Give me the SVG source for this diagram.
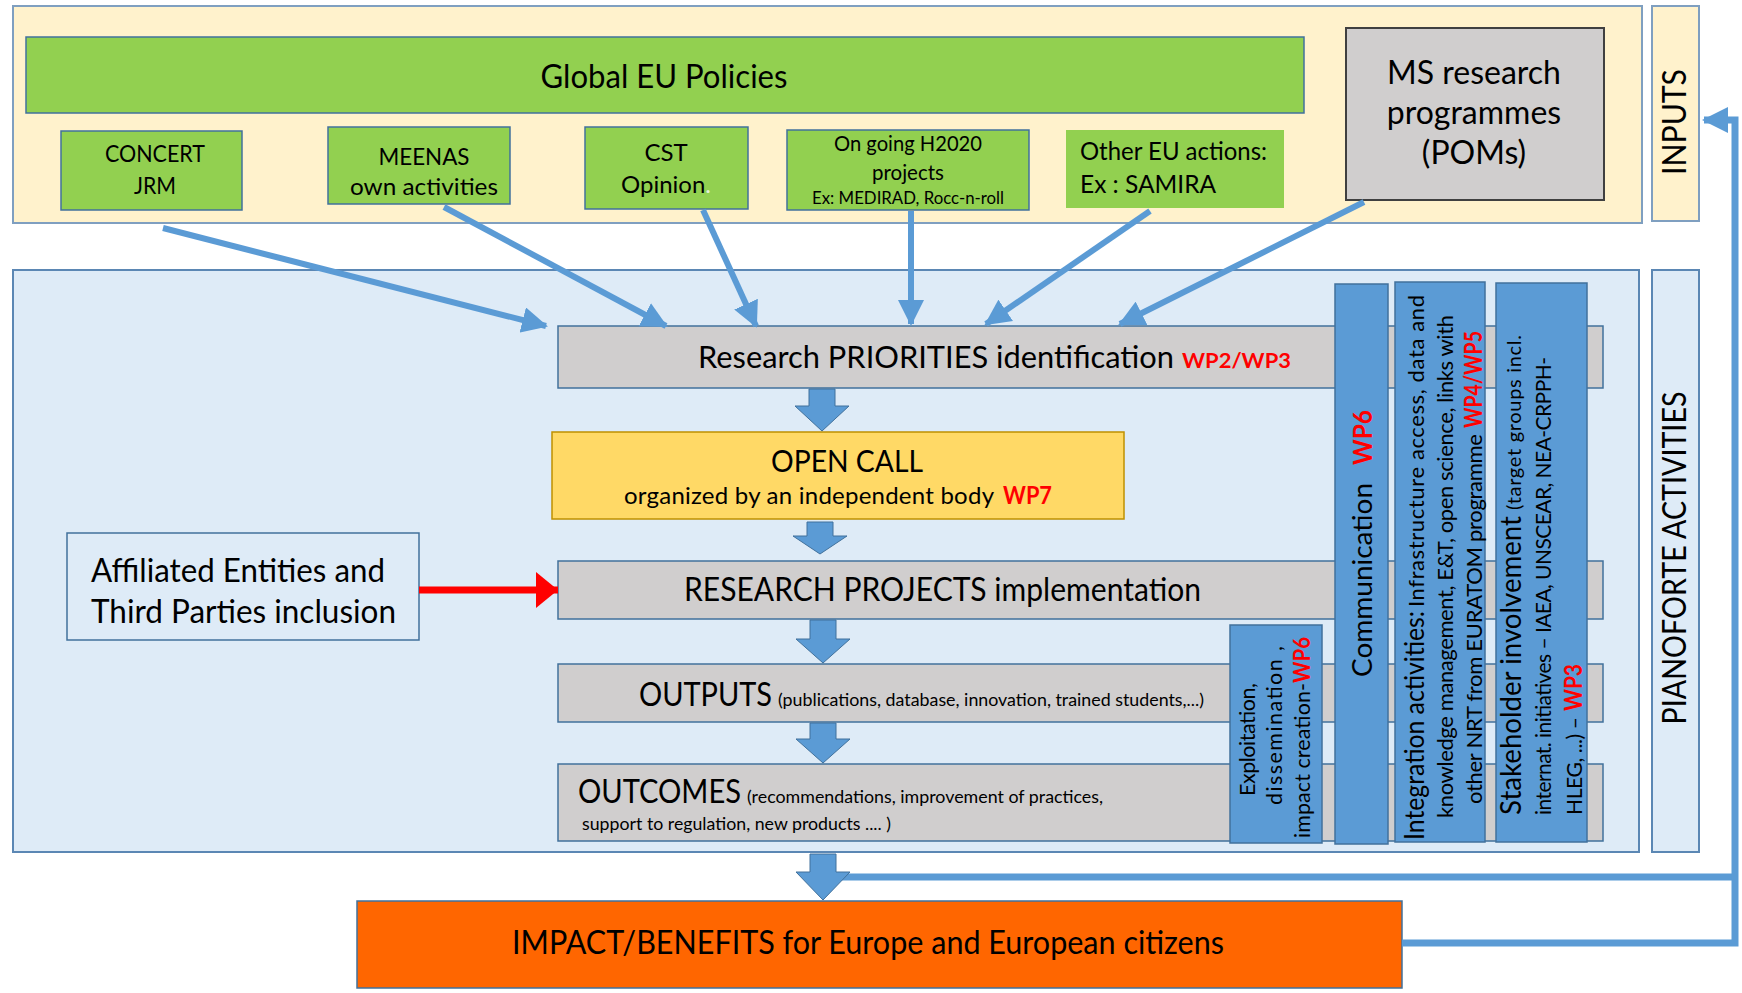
<svg xmlns="http://www.w3.org/2000/svg" width="1742" height="993" viewBox="0 0 1742 993">
<style>
.t{font-family:Lato,"Liberation Sans",sans-serif;fill:#000}
.rb{fill:#FF0000;font-weight:bold}
.green{fill:#92D050;stroke:#41719C;stroke-width:1.5}
.gray{fill:#D0CECE;stroke:#41719C;stroke-width:1.5}
.blue{fill:#5B9BD5;stroke:#41719C;stroke-width:1.5}
.conn{stroke:#5B9BD5;stroke-width:6;fill:none}
.fb{stroke:#5B9BD5;stroke-width:7;fill:none}
.blk{fill:#5B9BD5;stroke:#41719C;stroke-width:1}
.c{text-anchor:middle}
</style>
<defs>
<marker id="ah" markerUnits="userSpaceOnUse" markerWidth="28" markerHeight="26" refX="24" refY="13" orient="auto"><path d="M0,0 L26,13 L0,26 Z" fill="#5B9BD5"/></marker>
<marker id="ahr" markerUnits="userSpaceOnUse" markerWidth="24" markerHeight="36" refX="22" refY="18" orient="auto"><path d="M0,0 L22,18 L0,36 Z" fill="#FF0000"/></marker>
</defs>

<!-- panels -->
<g id="inputs-panel">
<rect x="13" y="6" width="1629" height="217" fill="#FFF2CC" stroke="#7F9FC0" stroke-width="2"/>
</g>
<g id="inputs-label">
<rect x="1652" y="6" width="47" height="215" fill="#FFF2CC" stroke="#7F9FC0" stroke-width="2"/>
<text class="t c" font-size="32" textLength="106" lengthAdjust="spacingAndGlyphs" transform="translate(1686,122) rotate(-90)">INPUTS</text>
</g>
<g id="activities-panel">
<rect x="13" y="270" width="1626" height="582" fill="#DEEBF7" stroke="#5B87B4" stroke-width="2"/>
</g>
<g id="activities-label">
<rect x="1652" y="270" width="47" height="582" fill="#DEEBF7" stroke="#5B87B4" stroke-width="2"/>
<text class="t c" font-size="32" textLength="333" lengthAdjust="spacingAndGlyphs" transform="translate(1686,558) rotate(-90)">PIANOFORTE ACTIVITIES</text>
</g>

<!-- input nodes -->
<g id="global-eu">
<rect class="green" x="26" y="37" width="1278" height="76"/>
<text class="t c" x="664" y="88" font-size="32" textLength="247" lengthAdjust="spacingAndGlyphs">Global EU Policies</text>
</g>
<g id="concert">
<rect class="green" x="61" y="131" width="181" height="79"/>
<text class="t c" x="155" y="162" font-size="24" textLength="100" lengthAdjust="spacingAndGlyphs">CONCERT</text>
<text class="t c" x="155" y="194" font-size="24" textLength="42" lengthAdjust="spacingAndGlyphs">JRM</text>
</g>
<g id="meenas">
<rect class="green" x="328" y="127" width="182" height="77"/>
<text class="t c" x="424" y="165" font-size="24" textLength="91" lengthAdjust="spacingAndGlyphs">MEENAS</text>
<text class="t c" x="424" y="195" font-size="24" textLength="148" lengthAdjust="spacingAndGlyphs">own activities</text>
</g>
<g id="cst">
<rect class="green" x="585" y="127" width="163" height="82"/>
<text class="t c" x="666" y="161" font-size="24">CST</text>
<text class="t c" x="666" y="193" font-size="24">Opinion<tspan fill="#E2F0D9">.</tspan></text>
</g>
<g id="h2020">
<rect class="green" x="787" y="130" width="242" height="80"/>
<text class="t c" x="908" y="151" font-size="20.5" textLength="148" lengthAdjust="spacingAndGlyphs">On going H2020</text>
<text class="t c" x="908" y="180" font-size="20.5">projects</text>
<text class="t c" x="908" y="204" font-size="17" textLength="192" lengthAdjust="spacingAndGlyphs">Ex: MEDIRAD, Rocc-n-roll</text>
</g>
<g id="other-eu">
<rect x="1066" y="130" width="218" height="78" fill="#92D050"/>
<text class="t" x="1080" y="160" font-size="24.5" textLength="187" lengthAdjust="spacingAndGlyphs">Other EU actions:</text>
<text class="t" x="1080" y="193" font-size="24.5">Ex : SAMIRA</text>
</g>
<g id="ms-research">
<rect x="1346" y="28" width="258" height="172" fill="#D0CECE" stroke="#404040" stroke-width="2"/>
<text class="t c" x="1474" y="84" font-size="32">MS research</text>
<text class="t c" x="1474" y="124" font-size="32">programmes</text>
<text class="t c" x="1474" y="164" font-size="32">(POMs)</text>
</g>

<!-- process nodes -->
<g id="priorities">
<rect class="gray" x="558" y="326" width="1045" height="62"/>
<text class="t" x="698" y="368" font-size="31" textLength="476" lengthAdjust="spacingAndGlyphs">Research PRIORITIES identification</text>
<text class="t rb" x="1182" y="368" font-size="21" textLength="109" lengthAdjust="spacingAndGlyphs">WP2/WP3</text>
</g>
<g id="open-call">
<rect x="552" y="432" width="572" height="87" fill="#FFD966" stroke="#BF9000" stroke-width="1.5"/>
<text class="t c" x="847" y="472" font-size="31" textLength="152" lengthAdjust="spacingAndGlyphs">OPEN CALL</text>
<text class="t" x="624" y="504" font-size="24" textLength="370" lengthAdjust="spacing">organized by an independent body</text>
<text class="t rb" x="1003" y="504" font-size="24" textLength="49" lengthAdjust="spacingAndGlyphs">WP7</text>
</g>
<g id="projects">
<rect class="gray" x="558" y="561" width="1045" height="58"/>
<text class="t" x="684" y="601" font-size="32" textLength="517" lengthAdjust="spacingAndGlyphs">RESEARCH PROJECTS implementation</text>
</g>
<g id="outputs">
<rect class="gray" x="558" y="664" width="1045" height="58"/>
<text class="t" x="639" y="706" font-size="32" textLength="133" lengthAdjust="spacingAndGlyphs">OUTPUTS</text>
<text class="t" x="778" y="706" font-size="18" textLength="426" lengthAdjust="spacingAndGlyphs">(publications, database, innovation, trained students,...)</text>
</g>
<g id="outcomes">
<rect class="gray" x="558" y="764" width="1045" height="77"/>
<text class="t" x="578" y="803" font-size="32" textLength="163" lengthAdjust="spacingAndGlyphs">OUTCOMES</text>
<text class="t" x="747" y="803" font-size="18" textLength="356" lengthAdjust="spacingAndGlyphs">(recommendations, improvement of practices,</text>
<text class="t" x="582" y="830" font-size="18" textLength="309" lengthAdjust="spacingAndGlyphs">support to regulation, new products .... )</text>
</g>
<g id="affiliated">
<rect x="67" y="533" width="352" height="107" fill="#DEEBF7" stroke="#41719C" stroke-width="1.5"/>
<text class="t" x="91" y="582" font-size="32" textLength="294" lengthAdjust="spacingAndGlyphs">Affiliated Entities and</text>
<text class="t" x="91" y="623" font-size="32" textLength="305" lengthAdjust="spacingAndGlyphs">Third Parties inclusion</text>
</g>

<!-- transversal activities -->
<g id="exploitation">
<rect class="blue" x="1230" y="625" width="92" height="218"/>
<text class="t" font-size="21.5" textLength="113" lengthAdjust="spacing" transform="translate(1255,796) rotate(-90)">Exploitation,</text>
<text class="t" font-size="21.5" textLength="159" lengthAdjust="spacing" transform="translate(1282,805) rotate(-90)">dissemination ,</text>
<text class="t" font-size="21.5" textLength="155" lengthAdjust="spacing" transform="translate(1310,838) rotate(-90)">impact creation-</text>
<text class="t rb" font-size="22" textLength="46" lengthAdjust="spacingAndGlyphs" transform="translate(1310,683) rotate(-90)">WP6</text>
</g>
<g id="communication">
<rect class="blue" x="1335" y="284" width="53" height="560"/>
<text class="t" font-size="27" textLength="194" lengthAdjust="spacingAndGlyphs" transform="translate(1372,677) rotate(-90)">Communication</text>
<text class="t rb" font-size="27" textLength="55" lengthAdjust="spacingAndGlyphs" transform="translate(1372,465) rotate(-90)">WP6</text>
</g>
<g id="integration">
<rect class="blue" x="1395" y="282" width="90" height="560"/>
<text class="t" font-size="27" textLength="229" lengthAdjust="spacingAndGlyphs" transform="translate(1424,840) rotate(-90)">Integration activities:</text>
<text class="t" font-size="22" textLength="312" lengthAdjust="spacing" transform="translate(1424,607) rotate(-90)">Infrastructure access, data and</text>
<text class="t" font-size="22" textLength="503" lengthAdjust="spacing" transform="translate(1453,818) rotate(-90)">knowledge management, E&amp;T, open science, links with</text>
<text class="t" font-size="22" textLength="370" lengthAdjust="spacing" transform="translate(1482,804) rotate(-90)">other NRT from EURATOM programme</text>
<text class="t rb" font-size="24" textLength="97" lengthAdjust="spacingAndGlyphs" transform="translate(1482,428) rotate(-90)">WP4/WP5</text>
</g>
<g id="stakeholder">
<rect class="blue" x="1496" y="283" width="91" height="559"/>
<text class="t" font-size="28" textLength="299" lengthAdjust="spacingAndGlyphs" transform="translate(1521,815) rotate(-90)">Stakeholder involvement</text>
<text class="t" font-size="20" textLength="175" lengthAdjust="spacing" transform="translate(1521,510) rotate(-90)">(target groups incl.</text>
<text class="t" font-size="21" textLength="458" lengthAdjust="spacing" transform="translate(1551,815) rotate(-90)">internat. initiatives – IAEA, UNSCEAR, NEA-CRPPH-</text>
<text class="t" font-size="21" textLength="98" lengthAdjust="spacing" transform="translate(1582,815) rotate(-90)">HLEG, ...) –</text>
<text class="t rb" font-size="24" textLength="47" lengthAdjust="spacingAndGlyphs" transform="translate(1582,711) rotate(-90)">WP3</text>
</g>

<g id="impact">
<rect x="357" y="901" width="1045" height="87" fill="#FF6600" stroke="#41719C" stroke-width="1.5"/>
<text class="t c" x="868" y="954" font-size="32" textLength="712" lengthAdjust="spacingAndGlyphs">IMPACT/BENEFITS for Europe and European citizens</text>
</g>

<!-- connectors -->
<g id="connectors">
<line class="conn" x1="163" y1="228" x2="546" y2="326" marker-end="url(#ah)"/>
<line class="conn" x1="444" y1="207" x2="666" y2="326" marker-end="url(#ah)"/>
<line class="conn" x1="703" y1="210" x2="756" y2="326" marker-end="url(#ah)"/>
<line class="conn" x1="911" y1="211" x2="911" y2="324" marker-end="url(#ah)"/>
<line class="conn" x1="1150" y1="211" x2="986" y2="324" marker-end="url(#ah)"/>
<line class="conn" x1="1364" y1="202" x2="1120" y2="324" marker-end="url(#ah)"/>
<line x1="419" y1="590" x2="558" y2="590" stroke="#FF0000" stroke-width="7" marker-end="url(#ahr)"/>
<path class="blk" d="M809,389 H835 V406 H849 L822,431 L795,406 H809 Z"/>
<path class="blk" d="M807,522 H833 V536 H847 L820,554 L793,536 H807 Z"/>
<path class="blk" d="M810,620 H836 V639 H850 L823,663 L796,639 H810 Z"/>
<path class="blk" d="M810,723 H836 V739 H850 L823,763 L796,739 H810 Z"/>
<path class="fb" d="M836,877 H1735"/>
<path class="blk" d="M810,854 H836 V872 H850 L823,900 L796,872 H810 Z"/>
<path class="fb" d="M1402,943 H1735 V120 H1704" marker-end="url(#ah)"/>
</g>
</svg>
